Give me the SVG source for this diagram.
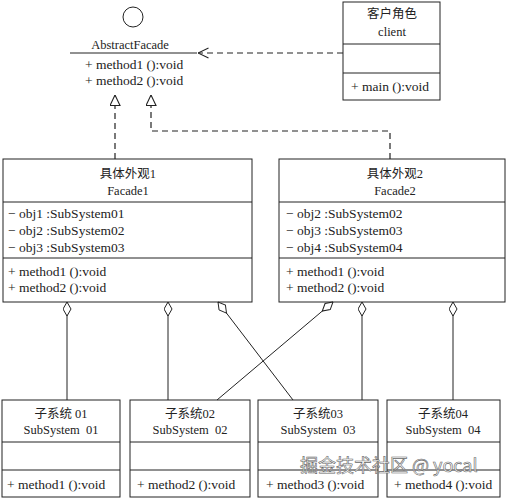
<svg xmlns="http://www.w3.org/2000/svg" width="510" height="500" viewBox="0 0 510 500">
<defs>
<style>
.box{fill:#fff;stroke:#222;stroke-width:1}
.ln{stroke:#222;stroke-width:1;fill:none}
.dash{stroke:#222;stroke-width:1.2;fill:none;stroke-dasharray:6,4}
.t{font-family:"Liberation Serif","Times New Roman",serif;font-size:12.5px;fill:#222;white-space:pre}
.m{font-family:"Liberation Serif","Times New Roman",serif;font-size:13.5px;fill:#222;white-space:pre}
.c{text-anchor:middle}
.cj{font-family:"Liberation Serif","Noto Sans CJK SC",serif;font-size:12.5px;fill:#222;text-anchor:middle;white-space:pre}
.wm{font-family:"Noto Sans CJK SC",sans-serif;font-size:18px;fill:#fff;fill-opacity:0.85;stroke:#666;stroke-width:0.6}
</style>
<marker id="dia" markerUnits="userSpaceOnUse" viewBox="0 0 15 9" refX="14.5" refY="4.5" markerWidth="15" markerHeight="9" orient="auto">
<path d="M0.5,4.5 L7.5,0.5 L14.5,4.5 L7.5,8.5 Z" fill="#fff" stroke="#222" stroke-width="1"/>
</marker>
<marker id="tri" markerUnits="userSpaceOnUse" viewBox="0 0 12 11" refX="11.5" refY="5.5" markerWidth="12" markerHeight="11" orient="auto">
<path d="M11.5,5.5 L1,0.5 L1,10.5 Z" fill="#fff" stroke="#222" stroke-width="1.1"/>
</marker>
<marker id="open" markerUnits="userSpaceOnUse" viewBox="0 0 12 12" refX="11.5" refY="6" markerWidth="12" markerHeight="12" orient="auto">
<path d="M1,1 L11.5,6 L1,11" fill="none" stroke="#222" stroke-width="1.1"/>
</marker>
</defs>
<rect width="510" height="500" fill="#fff"/>

<g id="AbstractFacade">
<circle cx="133" cy="17" r="10" class="ln"/>
<text x="130" y="49" class="t c">AbstractFacade</text>
<line x1="70" y1="53" x2="197" y2="53" class="ln"/>
<text x="85" y="69" class="m">+ method1 ():void</text>
<text x="85" y="85" class="m">+ method2 ():void</text>
</g>

<g id="client">
<rect x="343" y="2" width="97" height="98" class="box"/>
<line x1="343" y1="44" x2="440" y2="44" class="ln"/>
<line x1="343" y1="73" x2="440" y2="73" class="ln"/>
<text x="392" y="18" class="cj">客户角色</text>
<text x="392" y="36" class="t c">client</text>
<text x="351" y="91" class="m">+ main ():void</text>
</g>

<g id="Facade1">
<rect x="3" y="159" width="249" height="143" class="box"/>
<line x1="3" y1="202" x2="252" y2="202" class="ln"/>
<line x1="3" y1="258" x2="252" y2="258" class="ln"/>
<text x="128" y="178" class="cj">具体外观1</text>
<text x="128" y="195" class="t c">Facade1</text>
<text x="8" y="218" class="m">− obj1 :SubSystem01</text>
<text x="8" y="235" class="m">− obj2 :SubSystem02</text>
<text x="8" y="252" class="m">− obj3 :SubSystem03</text>
<text x="8" y="276" class="m">+ method1 ():void</text>
<text x="8" y="292" class="m">+ method2 ():void</text>
</g>

<g id="Facade2">
<rect x="279" y="159" width="226" height="143" class="box"/>
<line x1="279" y1="202" x2="505" y2="202" class="ln"/>
<line x1="279" y1="258" x2="505" y2="258" class="ln"/>
<text x="395" y="178" class="cj">具体外观2</text>
<text x="395" y="195" class="t c">Facade2</text>
<text x="286" y="218" class="m">− obj2 :SubSystem02</text>
<text x="286" y="235" class="m">− obj3 :SubSystem03</text>
<text x="286" y="252" class="m">− obj4 :SubSystem04</text>
<text x="286" y="276" class="m">+ method1 ():void</text>
<text x="286" y="292" class="m">+ method2 ():void</text>
</g>

<g id="SubSystem01">
<rect x="2" y="400" width="118" height="97" class="box"/>
<line x1="2" y1="442" x2="120" y2="442" class="ln"/>
<line x1="2" y1="470" x2="120" y2="470" class="ln"/>
<text x="61" y="418" class="cj">子系统 01</text>
<text x="61" y="434" class="t c">SubSystem  01</text>
<text x="7" y="489" class="m">+ method1 ():void</text>
</g>

<g id="SubSystem02">
<rect x="130" y="400" width="120" height="97" class="box"/>
<line x1="130" y1="442" x2="250" y2="442" class="ln"/>
<line x1="130" y1="470" x2="250" y2="470" class="ln"/>
<text x="190" y="418" class="cj">子系统02</text>
<text x="190" y="434" class="t c">SubSystem  02</text>
<text x="137" y="489" class="m">+ method2 ():void</text>
</g>

<g id="SubSystem03">
<rect x="258" y="400" width="120" height="97" class="box"/>
<line x1="258" y1="442" x2="378" y2="442" class="ln"/>
<line x1="258" y1="470" x2="378" y2="470" class="ln"/>
<text x="318" y="418" class="cj">子系统03</text>
<text x="318" y="434" class="t c">SubSystem  03</text>
<text x="266" y="489" class="m">+ method3 ():void</text>
</g>

<g id="SubSystem04">
<rect x="387" y="400" width="113" height="97" class="box"/>
<line x1="387" y1="442" x2="500" y2="442" class="ln"/>
<line x1="387" y1="470" x2="500" y2="470" class="ln"/>
<text x="443" y="418" class="cj">子系统04</text>
<text x="443" y="434" class="t c">SubSystem  04</text>
<text x="394" y="489" class="m">+ method4 ():void</text>
</g>

<g id="connectors">
<path d="M343,53 L198,53" class="dash" marker-end="url(#open)"/>
<path d="M115,159 L115,95" class="dash" marker-end="url(#tri)"/>
<path d="M390,159 L390,131 L151,131 L151,95" class="dash" marker-end="url(#tri)"/>
<path d="M67,400 L67,302" class="ln" marker-end="url(#dia)"/>
<path d="M168,400 L168,302" class="ln" marker-end="url(#dia)"/>
<path d="M293,400 L218,302" class="ln" marker-end="url(#dia)"/>
<path d="M217,400 L333,302" class="ln" marker-end="url(#dia)"/>
<path d="M362,400 L362,302" class="ln" marker-end="url(#dia)"/>
<path d="M453,400 L453,302" class="ln" marker-end="url(#dia)"/>
</g>

<text x="300" y="472" class="wm">掘金技术社区 @ yocal</text>
</svg>
